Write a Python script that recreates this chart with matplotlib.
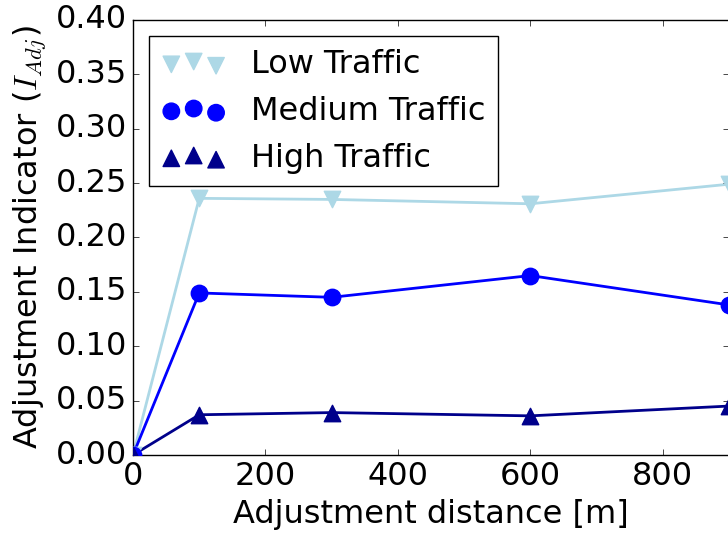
import matplotlib
matplotlib.use('Agg')
import matplotlib.pyplot as plt

plt.style.use('classic')

# adjustment distance [m]
distance = [0, 100, 300, 600, 900]
low_traffic = [0.0, 0.236, 0.235, 0.231, 0.249]
medium_traffic = [0.0, 0.149, 0.145, 0.165, 0.138]
high_traffic = [0.0, 0.037, 0.039, 0.036, 0.045]

fig = plt.figure(figsize=(7.28, 5.4), dpi=100)
ax = fig.add_axes([0.1827, 0.1574, 0.8187, 0.8056])

series = [
    (low_traffic, 'lightblue', 'v', 'Low Traffic'),
    (medium_traffic, 'blue', 'o', 'Medium Traffic'),
    (high_traffic, 'darkblue', '^', 'High Traffic'),
]
for vals, col, mk, lab in series:
    ax.plot(distance, vals, color=col, lw=2)
    ax.scatter(distance, vals, color=col, marker=mk, s=140, edgecolors=col, label=lab, zorder=3)

ax.set_xlim(0, 900)
ax.set_ylim(0, 0.4)
ax.set_xticks([0, 200, 400, 600, 800])
ax.set_yticks([i * 0.05 for i in range(9)])
ax.tick_params(labelsize=23)
ax.set_xlabel('Adjustment distance [m]', fontsize=23)
ax.set_ylabel('Adjustment Indicator ($I_{Adj}$)', fontsize=23)

ax.legend(loc='upper left', scatterpoints=3, fontsize=23)

fig.savefig('out.png', dpi=100)
